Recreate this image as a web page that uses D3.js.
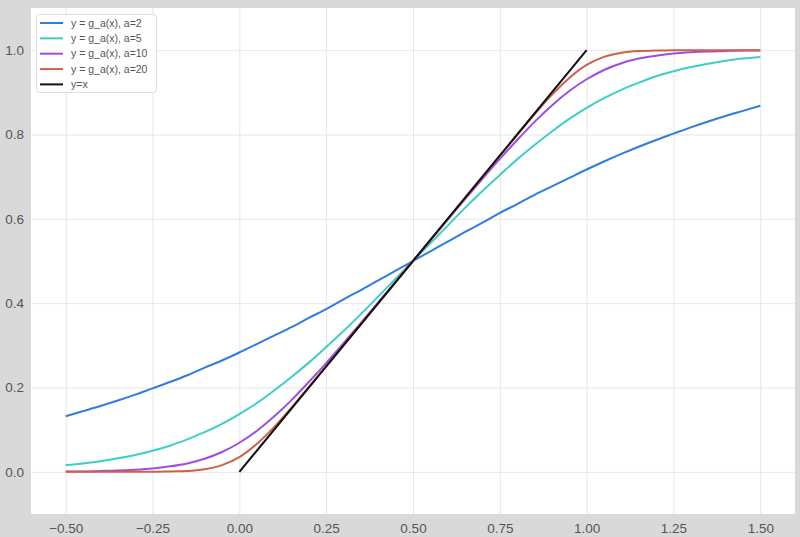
<!DOCTYPE html>
<html>
<head>
<meta charset="utf-8">
<script src="https://cdn.jsdelivr.net/npm/d3@7"></script>
<style>
  html, body { margin: 0; padding: 0; background: #d9d9d9; }
  #chart { width: 800px; height: 537px; }
</style>
</head>
<body>
<div id="chart"></div>
<script>
// sample positions along x, shared by the four curves
const xs = [-0.5, -0.45, -0.4, -0.35, -0.3, -0.25, -0.2, -0.15, -0.1, -0.05,
  0, 0.05, 0.1, 0.15, 0.2, 0.25, 0.3, 0.35, 0.4, 0.45,
  0.5, 0.55, 0.6, 0.65, 0.7, 0.75, 0.8, 0.85, 0.9, 0.95,
  1, 1.05, 1.1, 1.15, 1.2, 1.25, 1.3, 1.35, 1.4, 1.45, 1.5]

const ga2 = [0.132, 0.144, 0.156, 0.169, 0.183, 0.198, 0.213, 0.229, 0.247, 0.264,
  0.283, 0.303, 0.323, 0.343, 0.365, 0.386, 0.409, 0.431, 0.454, 0.477,
  0.500, 0.523, 0.546, 0.569, 0.591, 0.614, 0.635, 0.657, 0.677, 0.697,
  0.717, 0.736, 0.754, 0.771, 0.787, 0.802, 0.817, 0.831, 0.844, 0.856, 0.868]

const ga5 = [0.016, 0.020, 0.025, 0.032, 0.040, 0.050, 0.062, 0.077, 0.094, 0.114,
  0.137, 0.163, 0.193, 0.225, 0.259, 0.296, 0.334, 0.374, 0.416, 0.458,
  0.500, 0.542, 0.584, 0.626, 0.666, 0.704, 0.741, 0.775, 0.807, 0.837,
  0.863, 0.886, 0.906, 0.923, 0.938, 0.950, 0.960, 0.968, 0.975, 0.980, 0.984]

const ga10 = [0.001, 0.001, 0.002, 0.003, 0.005, 0.008, 0.013, 0.020, 0.031, 0.047,
  0.069, 0.097, 0.131, 0.170, 0.213, 0.258, 0.305, 0.353, 0.402, 0.451,
  0.500, 0.549, 0.598, 0.647, 0.695, 0.742, 0.787, 0.830, 0.869, 0.903,
  0.931, 0.953, 0.969, 0.980, 0.987, 0.992, 0.995, 0.997, 0.998, 0.999, 0.999]

const ga20 = [0.000, 0.000, 0.000, 0.000, 0.000, 0.000, 0.001, 0.002, 0.006, 0.016,
  0.035, 0.066, 0.106, 0.152, 0.201, 0.250, 0.300, 0.350, 0.400, 0.450,
  0.500, 0.550, 0.600, 0.650, 0.700, 0.750, 0.799, 0.848, 0.894, 0.934,
  0.965, 0.984, 0.994, 0.998, 0.999, 1.000, 1.000, 1.000, 1.000, 1.000, 1.000]

// the y=x reference segment
const diagX = [0, 1]
const diagY = [0, 1]

const xTicks = [-0.5, -0.25, 0, 0.25, 0.5, 0.75, 1, 1.25, 1.5]
const yTicks = [0, 0.2, 0.4, 0.6, 0.8, 1.0]

const seriesLabels = ['y = g_a(x), a=2', 'y = g_a(x), a=5', 'y = g_a(x), a=10', 'y = g_a(x), a=20', 'y=x']
const seriesColors = ['#2f7de1', '#3fcdc8', '#9b4fe0', '#d0604b', '#111111']

const series = [
  { xs: xs, ys: ga2 },
  { xs: xs, ys: ga5 },
  { xs: xs, ys: ga10 },
  { xs: xs, ys: ga20 },
  { xs: diagX, ys: diagY }
].map((s, i) => ({
  label: seriesLabels[i],
  color: seriesColors[i],
  points: s.xs.map((x, j) => [x, s.ys[j]])
}))

const width = 800
const height = 537
const margin = { top: 8, right: 5, bottom: 23, left: 31 }

const svg = d3.select('#chart').append('svg')
  .attr('width', width)
  .attr('height', height)
  .style('font-family', '"Liberation Sans", Arial, sans-serif')

svg.append('rect')
  .attr('width', width)
  .attr('height', height)
  .attr('fill', '#d9d9d9')

const x = d3.scaleLinear()
  .domain([-0.6, 1.6])
  .range([margin.left, width - margin.right])

const y = d3.scaleLinear()
  .domain([-0.1, 1.1])
  .range([height - margin.bottom, margin.top])

// white plotting area
svg.append('rect')
  .attr('x', margin.left)
  .attr('y', margin.top)
  .attr('width', width - margin.left - margin.right)
  .attr('height', height - margin.top - margin.bottom)
  .attr('fill', '#ffffff')

const minus = s => s.replace('-', '\u2212')

const xAxis = svg.append('g')
  .attr('transform', `translate(0,${height - margin.bottom})`)
  .call(d3.axisBottom(x)
    .tickValues(xTicks)
    .tickSize(-(height - margin.top - margin.bottom))
    .tickPadding(9)
    .tickFormat(d => minus(d3.format('.2f')(d))))

const yAxis = svg.append('g')
  .attr('transform', `translate(${margin.left},0)`)
  .call(d3.axisLeft(y)
    .tickValues(yTicks)
    .tickSize(-(width - margin.left - margin.right))
    .tickPadding(7)
    .tickFormat(d => minus(d3.format('.1f')(d))))

;[xAxis, yAxis].forEach(g => {
  g.select('.domain').remove()
  g.selectAll('.tick line')
    .attr('stroke', '#e6e6e6')
    .attr('stroke-width', 1)
  g.selectAll('.tick text')
    .attr('fill', '#555555')
    .attr('font-size', 13.5)
    .attr('font-family', '"Liberation Sans", Arial, sans-serif')
})

const line = d3.line()
  .x(d => x(d[0]))
  .y(d => y(d[1]))
  .curve(d3.curveMonotoneX)

svg.append('g')
  .attr('fill', 'none')
  .attr('stroke-width', 2)
  .attr('stroke-linecap', 'butt')
  .selectAll('path')
  .data(series)
  .join('path')
  .attr('stroke', d => d.color)
  .attr('d', d => line(d.points))

// legend
const legend = svg.append('g')
  .attr('transform', 'translate(36,14)')

legend.append('rect')
  .attr('x', 0.5)
  .attr('y', 0.5)
  .attr('width', 120)
  .attr('height', 78)
  .attr('rx', 3)
  .attr('fill', 'rgba(255,255,255,0.85)')
  .attr('stroke', '#dddddd')

const item = legend.selectAll('g.item')
  .data(series)
  .join('g')
  .attr('class', 'item')
  .attr('transform', (d, i) => `translate(0,${9 + i * 15.35})`)

item.append('line')
  .attr('x1', 4)
  .attr('x2', 27)
  .attr('stroke', d => d.color)
  .attr('stroke-width', 2)

item.append('text')
  .attr('x', 35)
  .attr('dy', '0.35em')
  .attr('font-size', 10.5)
  .attr('fill', '#555555')
  .text(d => d.label)
</script>
</body>
</html>
